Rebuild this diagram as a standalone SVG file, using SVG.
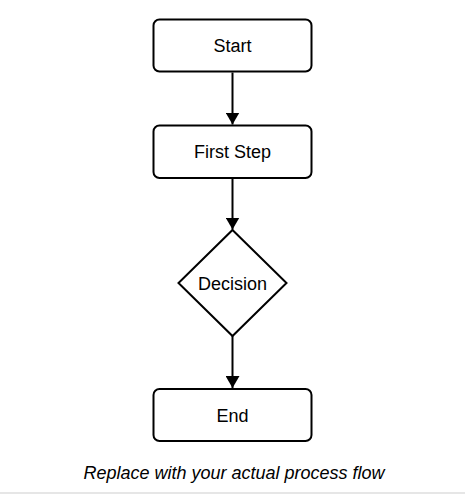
<svg xmlns="http://www.w3.org/2000/svg" width="465" height="494" viewBox="0 0 465 494">
  <defs>
    <marker id="arrow" markerUnits="userSpaceOnUse" viewBox="0 0 12 14" refX="12" refY="7" markerWidth="12" markerHeight="14" orient="auto">
      <path d="M0,0 L12,7 L0,14 Z" fill="#000"/>
    </marker>
    <style>
      .box { fill: #fff; stroke: #000; stroke-width: 2; }
      .lbl { font-family: "Liberation Sans", Arial, sans-serif; font-size: 18px; fill: #000; text-anchor: middle; }
      .edge { stroke: #000; stroke-width: 2; fill: none; marker-end: url(#arrow); }
      .cap { font-family: "Liberation Sans", Arial, sans-serif; font-size: 18px; font-style: italic; fill: #000; text-anchor: middle; }
    </style>
  </defs>
  <rect x="0" y="0" width="465" height="494" fill="#fff"/>
  <g id="connectors">
    <line class="edge" x1="232.5" y1="72.5" x2="232.5" y2="124.5"/>
    <line class="edge" x1="232.5" y1="179" x2="232.5" y2="229.5"/>
    <line class="edge" x1="232.5" y1="336" x2="232.5" y2="388"/>
  </g>
  <g id="start">
    <rect class="box" x="153.5" y="19.5" width="158" height="52" rx="6"/>
    <text class="lbl" x="232.5" y="52">Start</text>
  </g>
  <g id="first-step">
    <rect class="box" x="153.5" y="125.5" width="158" height="52.5" rx="6"/>
    <text class="lbl" x="232.5" y="158">First Step</text>
  </g>
  <g id="decision">
    <polygon class="box" points="232.5,230 286.5,283 232.5,336 178.5,283"/>
    <text class="lbl" x="232.5" y="289.5">Decision</text>
  </g>
  <g id="end">
    <rect class="box" x="153.5" y="389" width="158" height="52" rx="6"/>
    <text class="lbl" x="232.5" y="421.5">End</text>
  </g>
  <text class="cap" x="234" y="479">Replace with your actual process flow</text>
  <rect x="0" y="492" width="465" height="2" fill="#e6e6e6"/>
</svg>
